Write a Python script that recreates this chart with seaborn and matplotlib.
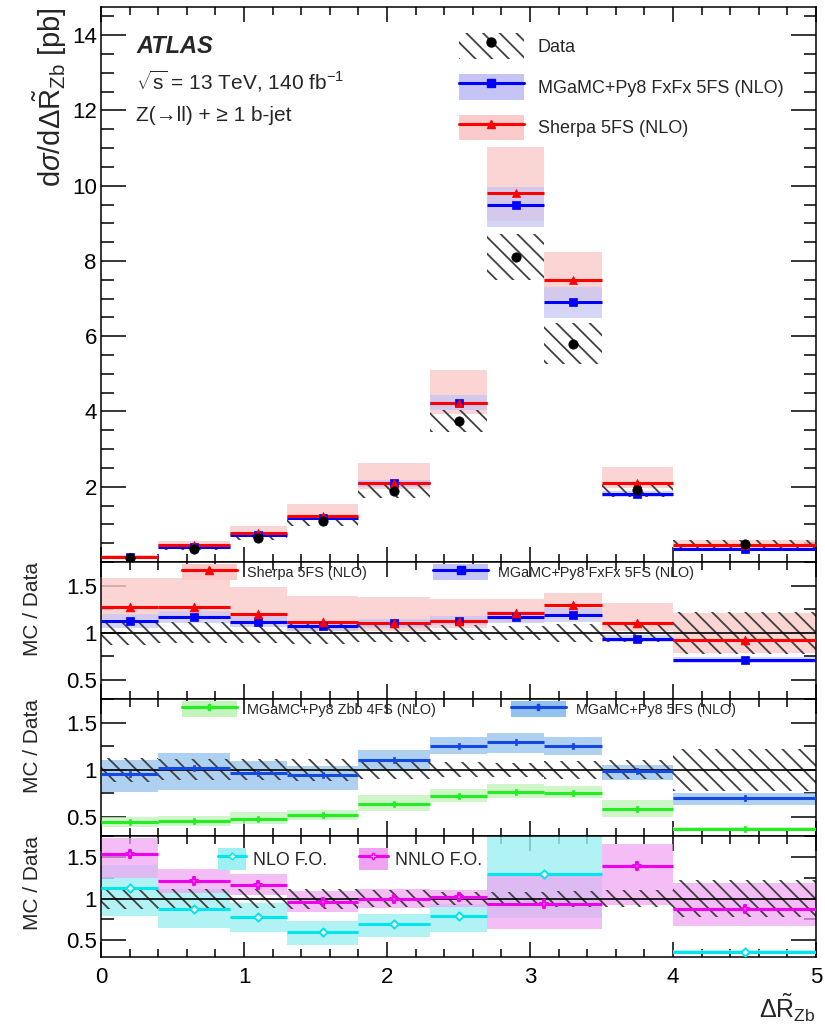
import numpy as np
import matplotlib
matplotlib.use('Agg')
import matplotlib.pyplot as plt
import seaborn as sns
from matplotlib.patches import Patch
from matplotlib.lines import Line2D
from matplotlib.ticker import MultipleLocator

sns.set_theme(style='ticks')
plt.rcParams['font.family'] = ['Liberation Sans', 'DejaVu Sans']
plt.rcParams['mathtext.fontset'] = 'custom'
plt.rcParams['mathtext.rm'] = 'Liberation Sans'
plt.rcParams['mathtext.it'] = 'Liberation Sans:italic'
plt.rcParams['mathtext.bf'] = 'Liberation Sans:bold'
plt.rcParams['hatch.linewidth'] = 1.3

# binning (fixed-order predictions merge 2.7-3.5)
edges = [0, 0.4, 0.9, 1.3, 1.8, 2.3, 2.7, 3.1, 3.5, 4.0, 5.0]
edges_fo = [0, 0.4, 0.9, 1.3, 1.8, 2.3, 2.7, 3.5, 4.0, 5.0]

# data [pb] and relative uncertainty
data = [0.11, 0.35, 0.65, 1.10, 1.90, 3.75, 8.10, 5.80, 1.92, 0.48]
data_unc = [0.13, 0.11, 0.11, 0.12, 0.10, 0.08, 0.075, 0.095, 0.10, 0.22]

# MC / Data ratios, with band edges
sherpa = [1.27, 1.27, 1.20, 1.11, 1.10, 1.13, 1.21, 1.29, 1.10, 0.92]
sherpa_hi = [1.58, 1.58, 1.49, 1.39, 1.38, 1.36, 1.36, 1.42, 1.32, 1.21]
sherpa_lo = [1.15, 1.15, 1.09, 1.02, 1.02, 1.05, 1.12, 1.20, 1.02, 0.79]

fxfx = [1.13, 1.17, 1.12, 1.07, 1.10, 1.13, 1.17, 1.19, 0.94, 0.71]
fxfx_hi = [1.20, 1.23, 1.18, 1.12, 1.15, 1.18, 1.23, 1.26, 0.98, 0.74]
fxfx_lo = [1.05, 1.10, 1.06, 1.02, 1.05, 1.08, 1.10, 1.12, 0.90, 0.68]

mg5fs = [0.96, 1.02, 0.97, 0.95, 1.10, 1.25, 1.29, 1.25, 0.99, 0.70]
mg5fs_hi = [1.10, 1.18, 1.09, 1.04, 1.21, 1.35, 1.39, 1.35, 1.05, 0.75]
mg5fs_lo = [0.77, 0.79, 0.79, 0.79, 1.00, 1.17, 1.18, 1.16, 0.89, 0.63]

zbb4fs = [0.445, 0.46, 0.48, 0.52, 0.64, 0.72, 0.77, 0.755, 0.59, 0.375]
zbb4fs_hi = [0.50, 0.51, 0.55, 0.58, 0.73, 0.80, 0.85, 0.83, 0.68, 0.40]
zbb4fs_lo = [0.39, 0.41, 0.43, 0.47, 0.56, 0.66, 0.70, 0.70, 0.50, 0.35]

nnlo = [1.54, 1.21, 1.16, 0.96, 1.00, 1.02, 0.94, 1.39, 0.88]
nnlo_hi = [1.73, 1.36, 1.30, 1.09, 1.11, 1.10, 1.27, 1.65, 1.19]
nnlo_lo = [1.25, 1.07, 1.04, 0.84, 0.89, 0.90, 0.64, 0.92, 0.67]

nlo = [1.13, 0.87, 0.78, 0.60, 0.69, 0.79, 1.29, np.nan, 0.355]
nlo_hi = [1.40, 1.11, 0.95, 0.73, 0.82, 0.94, 1.80, np.nan, 0.38]
nlo_lo = [0.79, 0.65, 0.60, 0.44, 0.54, 0.60, 0.77, np.nan, 0.33]

RED, PINK = '#ff0000', '#fbcaca'
BLUE, LAV = '#0000ff', '#c4c4f6'
BLUE2, SKY = '#1448e0', '#93c2ee'
GREEN, LGREEN = '#22ee22', '#c2f4bc'
CYAN, LCYAN = '#00e5ee', '#9ef0f2'
MAG, LMAG = '#ee00ee', '#f2a2f2'
HATCH = '#404040'


def band(ax, e, lo, hi, color, alpha=0.75, z=1):
    e = np.asarray(e, dtype=float)
    lo = np.asarray(lo, dtype=float)
    hi = np.asarray(hi, dtype=float)
    ax.bar(e[:-1], hi - lo, bottom=lo, width=np.diff(e), align='edge',
           color=color, alpha=alpha, linewidth=0, zorder=z)


def hatch_band(ax, e, lo, hi, z=2):
    e = np.asarray(e, dtype=float)
    lo = np.asarray(lo, dtype=float)
    hi = np.asarray(hi, dtype=float)
    ax.bar(e[:-1], hi - lo, bottom=lo, width=np.diff(e), align='edge',
           color='none', edgecolor=HATCH, hatch='\\\\', linewidth=0, zorder=z)


def steps(ax, e, vals, color, marker, s, lw=2.2, z=3, open_marker=False):
    e = np.asarray(e, dtype=float)
    vals = np.asarray(vals, dtype=float)
    c = (e[:-1] + e[1:]) / 2
    ax.hlines(vals, e[:-1], e[1:], colors=color, lw=lw, zorder=z)
    if open_marker:
        sns.scatterplot(x=c, y=vals, marker=marker, color='white', edgecolor=color,
                        linewidth=1.4, s=s, ax=ax, zorder=z + 0.5, legend=False)
    else:
        sns.scatterplot(x=c, y=vals, marker=marker, color=color, edgecolor=color,
                        linewidth=0.5, s=s, ax=ax, zorder=z + 0.5, legend=False)


W, H = 825, 1030
fig = plt.figure(figsize=(W / 100, H / 100), dpi=100)
L, R = 101, 816
rows = [(7, 562), (562, 699), (699, 836), (836, 957)]
axes = [fig.add_axes([L / W, 1 - b / H, (R - L) / W, (b - t) / H]) for t, b in rows]
ax0, ax1, ax2, ax3 = axes

d = np.asarray(data)
du = np.asarray(data_unc)

# ---- main panel
band(ax0, edges, d * np.asarray(sherpa_lo), d * np.asarray(sherpa_hi), PINK, 0.8, 1)
band(ax0, edges, d * np.asarray(fxfx_lo), d * np.asarray(fxfx_hi), LAV, 0.7, 1.2)
hatch_band(ax0, edges, d * (1 - du), d * (1 + du))
steps(ax0, edges, d * np.asarray(fxfx), BLUE, 's', 30)
steps(ax0, edges, d * np.asarray(sherpa), RED, '^', 34, z=3.2)
centers = (np.asarray(edges[:-1]) + np.asarray(edges[1:])) / 2
sns.scatterplot(x=centers, y=d, color='black', s=45, ax=ax0, zorder=6, legend=False,
                edgecolor='black')
ax0.set_ylim(0, 14.75)
ax0.set_yticks([2, 4, 6, 8, 10, 12, 14])
ax0.yaxis.set_minor_locator(MultipleLocator(0.5))
ax0.set_ylabel(r'd$\sigma$/d$\Delta\tilde{\mathrm{R}}_{\mathrm{Zb}}$ [pb]', fontsize=21,
               loc='top')
ax0.yaxis.set_label_coords(-0.045, 1.0)

ax0.text(0.049, 0.928, 'ATLAS', transform=ax0.transAxes, fontsize=17,
         fontweight='bold', fontstyle='italic', va='center')
ax0.text(0.049, 0.866, r'$\sqrt{\mathrm{s}}$ = 13 TeV, 140 fb$^{\mathrm{-1}}$',
         transform=ax0.transAxes, fontsize=15, va='center')
ax0.text(0.049, 0.805, 'Z(→ll) + ≥ 1 b-jet', transform=ax0.transAxes, fontsize=15,
         va='center')

h_data = (Patch(facecolor='none', edgecolor=HATCH, hatch='\\\\', linewidth=0),
          Line2D([], [], ls='none', marker='o', color='black', ms=6.5))
h_fx = (Patch(facecolor=LAV, linewidth=0),
        Line2D([], [], color=BLUE, lw=2.2, marker='s', ms=5.5))
h_sh = (Patch(facecolor=PINK, linewidth=0),
        Line2D([], [], color=RED, lw=2.2, marker='^', ms=6))
ax0.legend([h_data, h_fx, h_sh], ['Data', 'MGaMC+Py8 FxFx 5FS (NLO)', 'Sherpa 5FS (NLO)'],
           loc='upper left', bbox_to_anchor=(0.5, 0.953), frameon=False, fontsize=13,
           handlelength=3.6, handleheight=1.8, handletextpad=0.8, labelspacing=0.85,
           borderpad=0, borderaxespad=0)

# ---- ratio panel 1
band(ax1, edges, sherpa_lo, sherpa_hi, PINK, 0.8, 1)
band(ax1, edges, fxfx_lo, fxfx_hi, LAV, 0.7, 1.2)
hatch_band(ax1, edges, 1 - du, 1 + du)
steps(ax1, edges, fxfx, BLUE, 's', 36)
steps(ax1, edges, sherpa, RED, '^', 40, z=3.2)
ax1.legend([(Patch(facecolor=PINK, lw=0), Line2D([], [], color=RED, lw=2.2, marker='^', ms=6)),
            (Patch(facecolor=LAV, lw=0), Line2D([], [], color=BLUE, lw=2.2, marker='s', ms=6))],
           ['Sherpa 5FS (NLO)', 'MGaMC+Py8 FxFx 5FS (NLO)'], ncol=2,
           loc='upper left', bbox_to_anchor=(0.113, 0.985), frameon=False, fontsize=10.4,
           handlelength=3.8, handleheight=1.3, handletextpad=0.7, columnspacing=4.6,
           borderpad=0, borderaxespad=0)

# ---- ratio panel 2
band(ax2, edges, mg5fs_lo, mg5fs_hi, SKY, 0.75, 1)
band(ax2, edges, zbb4fs_lo, zbb4fs_hi, LGREEN, 0.8, 1)
hatch_band(ax2, edges, 1 - du, 1 + du)
steps(ax2, edges, mg5fs, BLUE2, 'P', 18)
steps(ax2, edges, zbb4fs, GREEN, 'P', 18)
ax2.legend([(Patch(facecolor=LGREEN, lw=0), Line2D([], [], color=GREEN, lw=2.2, marker='P', ms=4)),
            (Patch(facecolor=SKY, lw=0), Line2D([], [], color=BLUE2, lw=2.2, marker='P', ms=4))],
           ['MGaMC+Py8 Zbb 4FS (NLO)', 'MGaMC+Py8 5FS (NLO)'], ncol=2,
           loc='upper left', bbox_to_anchor=(0.113, 0.985), frameon=False, fontsize=10.4,
           handlelength=3.8, handleheight=1.3, handletextpad=0.7, columnspacing=5.2,
           borderpad=0, borderaxespad=0)

# ---- ratio panel 3
band(ax3, edges_fo, nlo_lo, nlo_hi, LCYAN, 0.8, 1)
band(ax3, edges_fo, nnlo_lo, nnlo_hi, LMAG, 0.7, 1.2)
hatch_band(ax3, edges, 1 - du, 1 + du)
steps(ax3, edges_fo, nlo, CYAN, 'D', 18, open_marker=True)
steps(ax3, edges_fo, nnlo, MAG, 'P', 30, z=3.2, open_marker=True)
ax3.legend([(Patch(facecolor=LCYAN, lw=0), Line2D([], [], color=CYAN, lw=2.2, marker='D', ms=3.5, mfc='white')),
            (Patch(facecolor=LMAG, lw=0), Line2D([], [], color=MAG, lw=2.2, marker='P', ms=5, mfc='white'))],
           ['NLO F.O.', 'NNLO F.O.'], ncol=2,
           loc='upper left', bbox_to_anchor=(0.163, 0.9), frameon=False, fontsize=12.8,
           handlelength=1.6, handleheight=1.5, handletextpad=0.4, columnspacing=1.8,
           borderpad=0, borderaxespad=0)

for ax in (ax1, ax2, ax3):
    ax.axhline(1, color='black', lw=1.2, zorder=2.5)
    ax.set_ylim(0.3, 1.75)
    ax.set_yticks([0.5, 1, 1.5])
    ax.set_yticklabels(['0.5', '1', '1.5'])
    ax.yaxis.set_minor_locator(MultipleLocator(0.25))
    ax.set_ylabel('MC / Data', fontsize=15, loc='top')
    ax.yaxis.set_label_coords(-0.083, 1.0)

for ax in axes:
    ax.set_xlim(0, 5)
    ax.xaxis.set_major_locator(MultipleLocator(1))
    ax.xaxis.set_minor_locator(MultipleLocator(0.2))
    ax.tick_params(which='both', direction='in', top=True, right=True, width=1.1,
                   labelsize=16, colors='black')
    ax.tick_params(axis='y', which='major', length=18, pad=3)
    ax.tick_params(axis='y', which='minor', length=9)
    ax.tick_params(axis='x', which='major', length=11, pad=7)
    ax.tick_params(axis='x', which='minor', length=6)
    for sp in ax.spines.values():
        sp.set_linewidth(1.1)
        sp.set_color('black')
    ax.set_facecolor('white')
    if ax is not ax3:
        ax.tick_params(axis='x', labelbottom=False)

fig.text(R / W, 1 - 1008 / H, r'$\Delta\tilde{\mathrm{R}}_{\mathrm{Zb}}$', fontsize=18,
         ha='right', va='center')

fig.savefig('out.png', dpi=100, facecolor='white')
